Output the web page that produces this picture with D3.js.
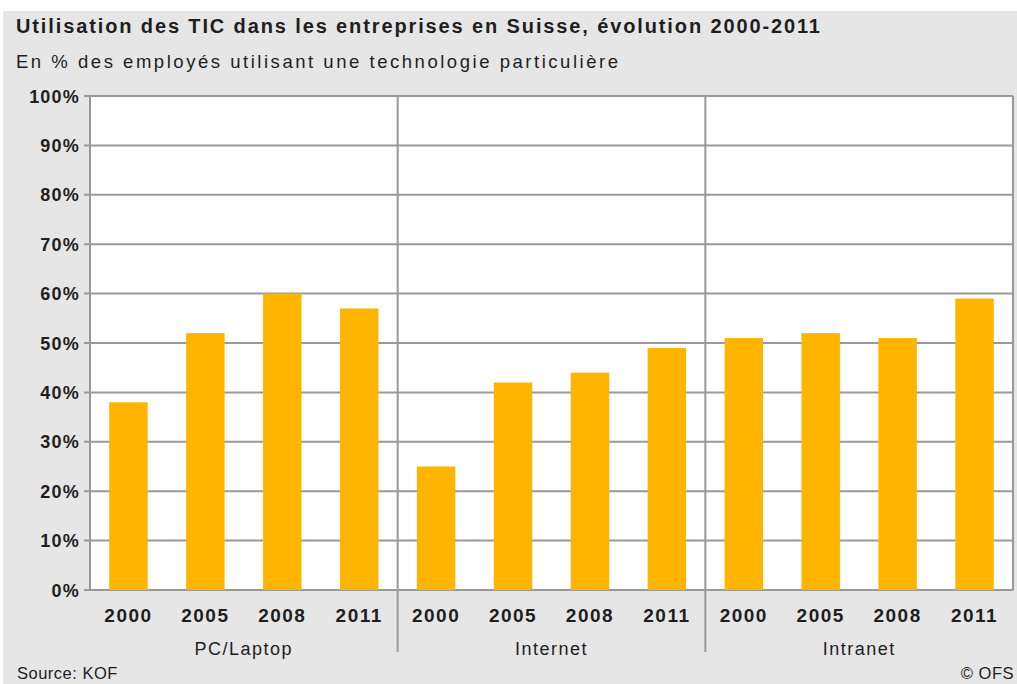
<!DOCTYPE html>
<html>
<head>
<meta charset="utf-8">
<script src="https://cdn.jsdelivr.net/npm/d3@7"></script>
<style>
  html, body { margin: 0; padding: 0; background: #ffffff; }
  svg { display: block; }
  text { font-family: "Liberation Sans", Arial, sans-serif; fill: #1e1e1e; }
</style>
</head>
<body>
<svg id="chart" width="1017" height="684"></svg>
<script>
// ---- Data ----
const groups = ["PC/Laptop", "Internet", "Intranet"];
const years = ["2000", "2005", "2008", "2011"];
const pcLaptop = [38, 52, 60, 57];
const internet = [25, 42, 44, 49];
const intranet = [51, 52, 51, 59];
const yTicks = [0, 10, 20, 30, 40, 50, 60, 70, 80, 90, 100];
const yTickLabels = ["0%", "10%", "20%", "30%", "40%", "50%", "60%", "70%", "80%", "90%", "100%"];
const titleText = "Utilisation des TIC dans les entreprises en Suisse, évolution 2000-2011";
const subtitleText = "En % des employés utilisant une technologie particulière";
const sourceText = "Source: KOF";
const creditText = "© OFS";

const seriesByGroup = [pcLaptop, internet, intranet];
const rows = [];
groups.forEach((g, gi) => years.forEach((y, yi) => rows.push({ group: g, year: y, value: seriesByGroup[gi][yi] })));

// ---- Layout ----
const svg = d3.select("#chart");
const W = 1017, H = 684;
const margin = { left: 90, right: 4, top: 96, bottom: 94 };
const plotW = W - margin.left - margin.right;
const plotH = H - margin.top - margin.bottom;

// background panel
svg.append("rect").attr("x", 3).attr("y", 11).attr("width", W - 3).attr("height", H - 11).attr("fill", "#e6e6e6");

const g = svg.append("g").attr("transform", `translate(${margin.left},${margin.top})`);

const x0 = d3.scaleBand().domain(groups).range([0, plotW]).padding(0);
const x1 = d3.scaleBand().domain(years).range([0, x0.bandwidth()]).paddingInner(0.5).paddingOuter(0.25);
const y = d3.scaleLinear().domain([0, 100]).range([plotH, 0]);

// plot area
g.append("rect").attr("x", 0).attr("y", 0).attr("width", plotW).attr("height", plotH).attr("fill", "#ffffff");

const lineColor = "#999999";

// gridlines
g.selectAll("line.grid").data(yTicks).join("line")
  .attr("class", "grid")
  .attr("x1", -6).attr("x2", plotW)
  .attr("y1", d => y(d)).attr("y2", d => y(d))
  .attr("stroke", lineColor).attr("stroke-width", 2);

// y labels
g.selectAll("text.ylab").data(yTicks).join("text")
  .attr("class", "ylab")
  .attr("x", -10).attr("y", d => y(d) + 6.5)
  .attr("text-anchor", "end")
  .style("font-size", "18px").style("font-weight", "bold").style("letter-spacing", "1.2px")
  .text((d, i) => yTickLabels[i]);

// bars
g.selectAll("rect.bar").data(rows).join("rect")
  .attr("class", "bar")
  .attr("x", d => x0(d.group) + x1(d.year))
  .attr("width", x1.bandwidth())
  .attr("y", d => y(d.value))
  .attr("height", d => y(0) - y(d.value))
  .attr("fill", "#ffb500");

// left axis & right border
g.append("line").attr("x1", 0).attr("x2", 0).attr("y1", 0).attr("y2", plotH).attr("stroke", lineColor).attr("stroke-width", 2);
g.append("line").attr("x1", plotW).attr("x2", plotW).attr("y1", 0).attr("y2", plotH).attr("stroke", lineColor).attr("stroke-width", 2);

// group separators
groups.slice(1).forEach(gr => {
  g.append("line").attr("x1", x0(gr)).attr("x2", x0(gr)).attr("y1", 0).attr("y2", plotH + 62)
    .attr("stroke", lineColor).attr("stroke-width", 2);
});

// year labels
g.selectAll("text.year").data(rows).join("text")
  .attr("class", "year")
  .attr("x", d => x0(d.group) + x1(d.year) + x1.bandwidth() / 2)
  .attr("y", plotH + 32)
  .attr("text-anchor", "middle")
  .style("font-size", "19px").style("font-weight", "bold").style("letter-spacing", "1.5px")
  .text(d => d.year);

// group labels
g.selectAll("text.grp").data(groups).join("text")
  .attr("class", "grp")
  .attr("x", d => x0(d) + x0.bandwidth() / 2)
  .attr("y", plotH + 65)
  .attr("text-anchor", "middle")
  .style("font-size", "18px").style("letter-spacing", "1.5px")
  .text(d => d);

// title & subtitle
svg.append("text").attr("x", 16).attr("y", 33)
  .style("font-size", "20px").style("font-weight", "bold")
  .attr("textLength", 804).attr("lengthAdjust", "spacing")
  .text(titleText);
svg.append("text").attr("x", 16).attr("y", 68)
  .style("font-size", "18.5px")
  .attr("textLength", 602).attr("lengthAdjust", "spacing")
  .text(subtitleText);

// source & credit
svg.append("text").attr("x", 17).attr("y", 679)
  .style("font-size", "16.5px").style("letter-spacing", "0.5px")
  .text(sourceText);
svg.append("text").attr("x", 1014).attr("y", 679).attr("text-anchor", "end")
  .style("font-size", "16.5px").style("letter-spacing", "0.5px")
  .text(creditText);
</script>
</body>
</html>
